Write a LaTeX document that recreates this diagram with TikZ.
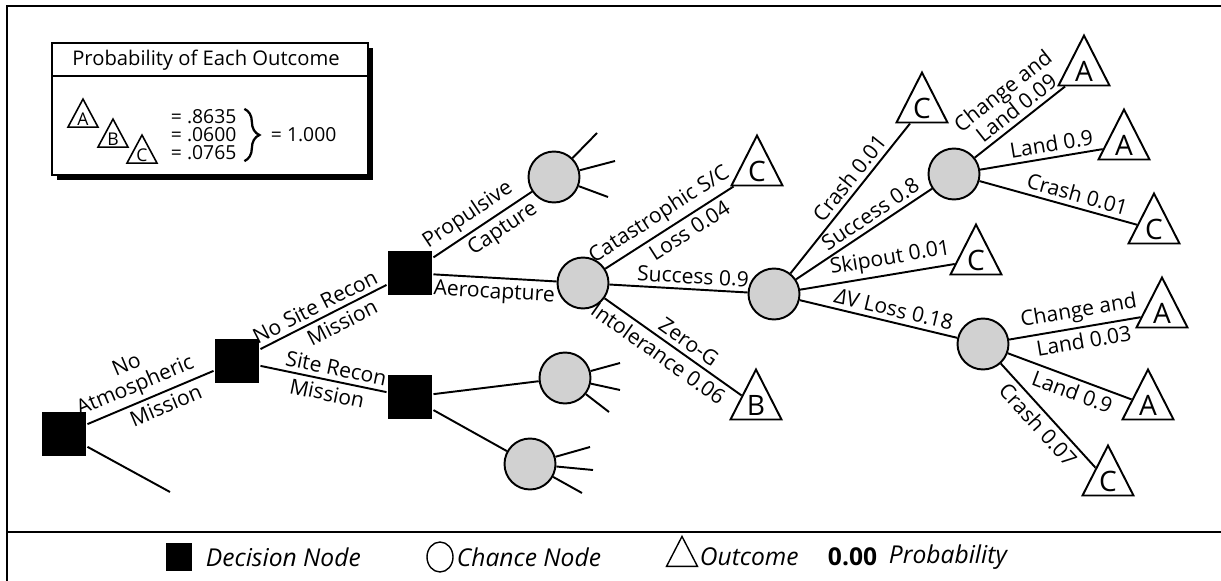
\documentclass[tikz,border=0pt]{standalone}
\usepackage{fontspec}
\setmainfont{Open Sans}
\usetikzlibrary{shapes.geometric, decorations.pathreplacing}

\begin{document}
\begin{tikzpicture}[
    x=0.02cm, y=-0.02cm,
    line width=1.1pt,
    decision/.style={fill=black, minimum size=0.9cm, inner sep=0pt},
    chance/.style={draw, circle, fill=black!18, minimum size=1.02cm, inner sep=0pt},
    outcome/.style={
        draw,
        fill=white,
        isosceles triangle,
        shape border rotate=90,
        isosceles triangle stretches,
        minimum width=1.02cm,
        minimum height=1.0cm,
        inner sep=0pt,
        anchor=apex,
        font=\fontsize{16}{16}\selectfont
    },
    keyoutcome/.style={outcome, line width=0.9pt, minimum width=0.6cm, minimum height=0.56cm, font=\fontsize{10}{10}\selectfont},
    lbl/.style={sloped, inner sep=2.5pt, font=\fontsize{12}{12.5}\selectfont, align=center},
    keytext/.style={anchor=west, inner sep=0pt, font=\itshape\fontsize{14}{14}\selectfont},
    boxtext/.style={anchor=west, inner sep=0pt, font=\fontsize{11}{11}\selectfont},
    frame/.style={line width=1.7pt}
]
\useasboundingbox (0,0) rectangle (1221,581);

% === Frame ===
\draw[frame] (7,581) -- (7,6) -- (1221,6);
\draw[frame] (7,532) -- (1221,532);

% === Decision nodes ===
\node[decision] (noatm) at (64,434) {};
\node[decision] (mission) at (237,361) {};
\node[decision] (capture) at (410,273) {};
\node[decision] (siterecon) at (410,397) {};

% === Chance nodes ===
\node[chance] (propulsive) at (554,177) {};
\node[chance] (aero) at (583,283) {};
\node[chance] (entry) at (774,294) {};
\node[chance] (landing) at (954,174) {};
\node[chance] (dvloss) at (983,344) {};
\node[chance] (reconup) at (565,378) {};
\node[chance] (recondown) at (530,464) {};

% === Outcomes ===
\node[outcome] (catloss) at (757,133) {C};
\node[outcome] (zerog) at (756,367) {B};
\node[outcome] (crashA) at (922,70) {C};
\node[outcome] (skipout) at (976,222) {C};
\node[outcome] (changeA) at (1084,33) {A};
\node[outcome] (landA) at (1124,107) {A};
\node[outcome] (crashB) at (1154,191) {C};
\node[outcome] (changeB) at (1162,275) {A};
\node[outcome] (landB) at (1148,367) {A};
\node[outcome] (crashC) at (1108,443) {C};

% === Open branch ends ===
\coordinate (noatm-end) at (170,492);
\coordinate (prop-a) at (597,133);
\coordinate (prop-b) at (615,161);
\coordinate (prop-c) at (608,197);
\coordinate (rup-a) at (620,363);
\coordinate (rup-b) at (620,390);
\coordinate (rup-c) at (609,412);
\coordinate (rdn-a) at (590,447);
\coordinate (rdn-b) at (593,470);
\coordinate (rdn-c) at (582,493);

% ============ BRANCHES ============

% Mission choice
\draw (noatm) -- node[lbl, above, pos=0.43] {No\\Atmospheric} node[lbl, below, pos=0.58] {Mission} (mission);
\draw (noatm) -- (noatm-end);
\draw (mission) -- node[lbl, above, pos=0.48] {No Site Recon} node[lbl, below, pos=0.6] {Mission} (capture);
\draw (mission) -- node[lbl, above, pos=0.58] {Site Recon} node[lbl, below, pos=0.55] {Mission} (siterecon);

% Capture choice
\draw (capture) -- node[lbl, above, pos=0.44] {Propulsive} node[lbl, below, pos=0.62] {Capture} (propulsive);
\draw (capture) -- node[lbl, below, pos=0.5] {Aerocapture} (aero);
\draw (siterecon) -- (reconup);
\draw (siterecon) -- (recondown);

% Aerocapture
\draw (aero) -- node[lbl, above, pos=0.49] {Catastrophic S/C} node[lbl, below, pos=0.6] {Loss 0.04} (catloss);
\draw (aero) -- node[lbl, above, pos=0.6] {Success 0.9} (entry);
\draw (aero) -- node[lbl, above, pos=0.56] {Zero-G} node[lbl, below, pos=0.45] {Intolerance 0.06} (zerog);

% Entry
\draw (entry) -- node[lbl, above, pos=0.58] {Crash 0.01} (crashA);
\draw (entry) -- node[lbl, above, pos=0.6] {Success 0.8} (landing);
\draw (entry) -- node[lbl, above, pos=0.6] {Skipout 0.01} (skipout);
\draw (entry) -- node[lbl, above, pos=0.58] {\textit{Δ}V Loss 0.18} (dvloss);

% Landing
\draw (landing) -- node[lbl, above, pos=0.55] {Change and\\Land 0.09} (changeA);
\draw (landing) -- node[lbl, above, pos=0.6] {Land 0.9} (landA);
\draw (landing) -- node[lbl, above, pos=0.6] {Crash 0.01} (crashB);

% After Delta-V loss
\draw (dvloss) -- node[lbl, above, pos=0.55] {Change and} node[lbl, below, pos=0.55] {Land 0.03} (changeB);
\draw (dvloss) -- node[lbl, below, pos=0.56] {Land 0.9} (landB);
\draw (dvloss) -- node[lbl, below, pos=0.5] {Crash 0.07} (crashC);

% Unexpanded chance nodes
\draw (propulsive) -- (prop-a);
\draw (propulsive) -- (prop-b);
\draw (propulsive) -- (prop-c);
\draw (reconup) -- (rup-a);
\draw (reconup) -- (rup-b);
\draw (reconup) -- (rup-c);
\draw (recondown) -- (rdn-a);
\draw (recondown) -- (rdn-b);
\draw (recondown) -- (rdn-c);

% === Probability box ===
\fill (57,48) rectangle (373,180);
\draw[fill=white, line width=1.3pt] (52,43) rectangle (368,175);
\draw[line width=1.3pt] (52,76) -- (368,76);
\node[font=\fontsize{11.5}{11.5}\selectfont] (probtitle) at (206,60) {Probability of Each Outcome};
\node[keyoutcome] (keyA) at (83,97) {A};
\node[keyoutcome] (keyB) at (113,117) {B};
\node[keyoutcome] (keyC) at (142,133) {C};
\node[boxtext] (probA) at (170,117) {= .8635};
\node[boxtext] (probB) at (170,135) {= .0600};
\node[boxtext] (probC) at (170,153) {= .0765};
\draw[decorate, decoration={brace, amplitude=0.3cm}, line width=1.3pt] ([xshift=4pt]probA.north east) -- ([xshift=4pt]probC.south east);
\node[boxtext] (probsum) at (270,135) {= 1.000};

% === Key ===
\node[fill=black, minimum width=0.52cm, minimum height=0.56cm, inner sep=0pt] (keydecision) at (179,557) {};
\node[keytext] (keydecisiontxt) at (205,557) {Decision Node};
\node[draw, ellipse, line width=0.8pt, minimum width=0.52cm, minimum height=0.6cm, inner sep=0pt] (keychance) at (440,557) {};
\node[keytext] (keychancetxt) at (456,557) {Chance Node};
\node[draw, isosceles triangle, shape border rotate=90, isosceles triangle stretches, minimum width=0.62cm, minimum height=0.6cm, inner sep=0pt, line width=0.8pt] (keyout) at (682,557) {};
\node[keytext] (keyouttxt) at (699,557) {Outcome};
\node[anchor=west, inner sep=0pt, font=\bfseries\fontsize{14}{14}\selectfont] (keyprob) at (827,557) {0.00};
\node[keytext] (keyprobtxt) at (888,557) {Probability};

\end{tikzpicture}
\end{document}
